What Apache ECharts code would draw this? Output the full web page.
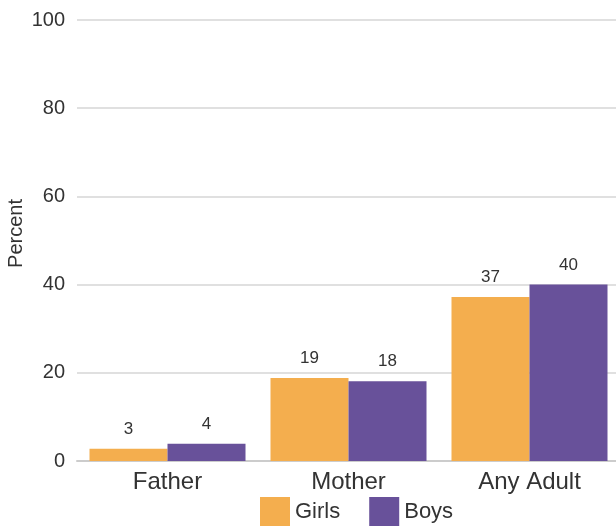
<!DOCTYPE html>
<html><head><meta charset="utf-8">
<script src="https://cdn.jsdelivr.net/npm/echarts@6/dist/echarts.min.js"></script>
<style>html,body{margin:0;padding:0;background:#fff}#c{width:616px;height:526px}</style>
</head><body><div id="c"></div>
<script>
const categories = ['Father', 'Mother', 'Any Adult'];
const girls = [2.8, 18.8, 37.2];
const boys = [3.9, 18.1, 40];
const yTicks = [0, 20, 40, 60, 80, 100];

const chart = echarts.init(document.getElementById('c'), null, {renderer: 'canvas'});
const font = 'Liberation Sans, Arial, sans-serif';
const lbl = {show: true, position: 'top', distance: 11, color: '#333', fontSize: 17, fontFamily: font,
  formatter: p => Math.round(p.value)};
chart.setOption({
  animation: false,
  legend: {top: 497, left: 260, padding: 0, itemWidth: 30, itemHeight: 29, itemGap: 29,
    icon: 'rect', textStyle: {fontSize: 22, color: '#333', fontFamily: font},
    data: ['Girls', 'Boys']},
  grid: {left: 77, top: 20, width: 543, bottom: 65, containLabel: false, outerBoundsMode: 'none'},
  xAxis: {type: 'category', data: categories,
    axisLine: {lineStyle: {color: '#ccc', width: 2}}, axisTick: {show: false},
    axisLabel: {fontSize: 24, color: '#333', fontFamily: font, margin: 9}},
  yAxis: {type: 'value', min: yTicks[0], max: yTicks[yTicks.length-1], interval: 20,
    name: 'Percent', nameLocation: 'middle', nameGap: 51, nameRotate: 90, nameMoveOverlap: false,
    nameTextStyle: {fontSize: 20, color: '#333', fontFamily: font, padding: [0, 0, 0, 14]},
    axisLine: {show: false}, axisTick: {show: false},
    axisLabel: {fontSize: 20, color: '#333', fontFamily: font, margin: 12},
    splitLine: {lineStyle: {color: '#e0e0e0', width: 2}}},
  series: [
    {name: 'Girls', type: 'bar', data: girls, barWidth: 78, barGap: '0%', itemStyle: {color: '#F4AE4E'}, label: lbl},
    {name: 'Boys', type: 'bar', data: boys, barWidth: 78, barGap: '0%', itemStyle: {color: '#68519A'}, label: lbl}
  ]
});
</script></body></html>
